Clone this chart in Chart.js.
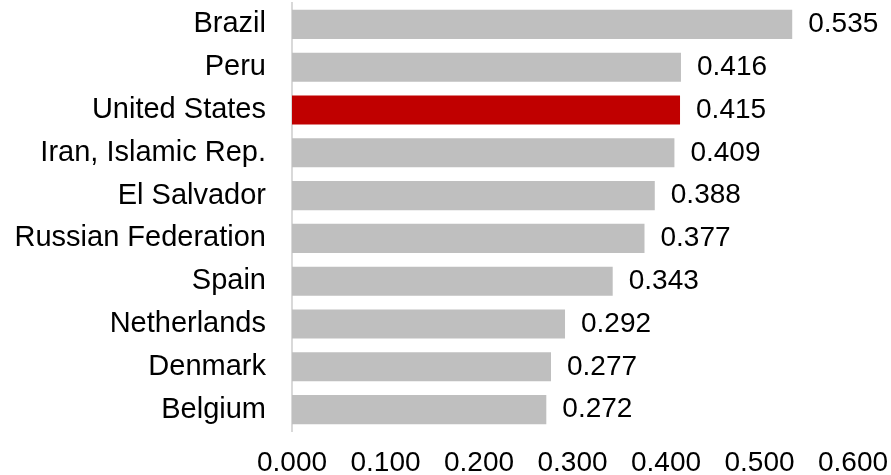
<!DOCTYPE html>
<html>
<head>
<meta charset="utf-8">
<script src="https://cdn.jsdelivr.net/npm/chart.js@4"></script>
<style>
  body { margin: 0; background: #fff; }
  #wrap { width: 891px; height: 475px; }
</style>
</head>
<body>
<div id="wrap"><canvas id="myChart" width="891" height="475"></canvas></div>
<script>
const countries = ['Brazil', 'Peru', 'United States', 'Iran, Islamic Rep.', 'El Salvador',
    'Russian Federation', 'Spain', 'Netherlands', 'Denmark', 'Belgium']
const values = [0.535, 0.416, 0.415, 0.409, 0.388, 0.377, 0.343, 0.292, 0.277, 0.272]
const highlight = 'United States'
const x_ticks = [0, 0.1, 0.2, 0.3, 0.4, 0.5, 0.6]

const FAMILY = '"Liberation Sans", Arial, sans-serif'
const NUM_FONT = { family: FAMILY, size: 28 }
const CAT_FONT = { family: FAMILY, size: 29 }

// value labels right of each bar
const valueLabels = {
    id: 'valueLabels',
    afterDatasetsDraw(chart) {
        const ctx = chart.ctx
        const meta = chart.getDatasetMeta(0)
        ctx.save()
        ctx.font = NUM_FONT.size + 'px ' + FAMILY
        ctx.fillStyle = '#000'
        ctx.textAlign = 'left'
        ctx.textBaseline = 'middle'
        meta.data.forEach((bar, i) => {
            ctx.fillText(values[i].toFixed(3), bar.x + 16, bar.y)
        })
        ctx.restore()
    }
}

const ctx = document.getElementById('myChart')
new Chart(ctx, {
    type: 'bar',
    data: {
        labels: countries,
        datasets: [{
            data: values,
            backgroundColor: countries.map(c => c === highlight ? '#c00000' : '#bfbfbf'),
            borderWidth: 0,
            barPercentage: 0.68,
            categoryPercentage: 1
        }]
    },
    options: {
        indexAxis: 'y',
        responsive: false,
        animation: false,
        layout: { padding: { left: 0, right: 38, top: 3, bottom: 0 } },
        scales: {
            x: {
                min: 0,
                max: 0.6,
                afterBuildTicks: scale => { scale.ticks = x_ticks.map(v => ({ value: v })) },
                afterFit: scale => {
                    scale.height = 44
                    scale.paddingLeft = 0
                    scale.paddingRight = 0
                },
                grid: { display: false, drawTicks: false },
                border: { display: false },
                ticks: {
                    padding: 15,
                    color: '#000',
                    font: NUM_FONT,
                    callback: v => Number(v).toFixed(3)
                }
            },
            y: {
                afterFit: scale => {
                    scale.width = 292
                    scale.paddingTop = 0
                    scale.paddingBottom = 0
                },
                grid: { display: false, drawTicks: false },
                border: { display: true, color: '#d9d9d9', width: 2 },
                ticks: {
                    padding: 26,
                    color: '#000',
                    font: CAT_FONT
                }
            }
        },
        plugins: {
            legend: { display: false },
            tooltip: { enabled: false }
        }
    },
    plugins: [valueLabels]
})
</script>
</body>
</html>
